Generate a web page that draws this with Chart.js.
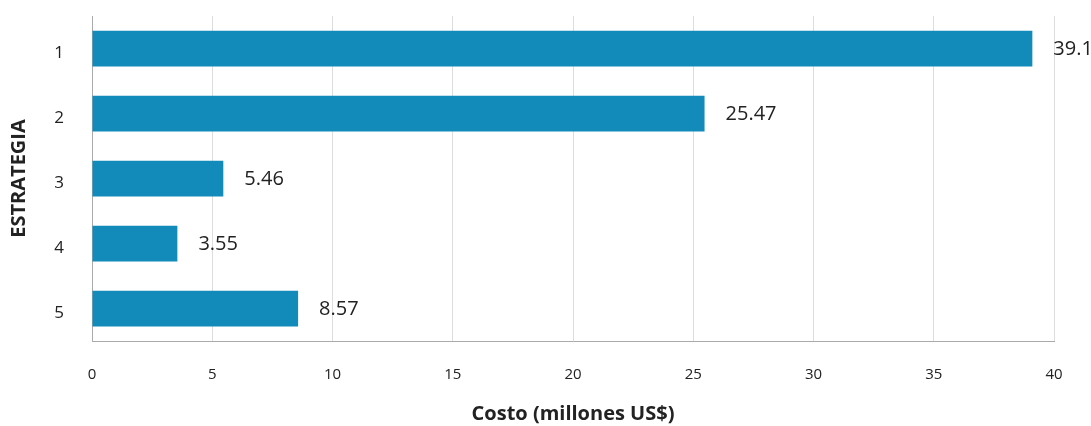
<!DOCTYPE html>
<html>
<head>
<meta charset="utf-8">
<script src="https://cdn.jsdelivr.net/npm/chart.js@4"></script>
<style>
  html, body { margin: 0; padding: 0; background: #ffffff; }
  #wrap { width: 1091px; height: 426px; }
</style>
</head>
<body>
<div id="wrap"><canvas id="c" width="1091" height="426"></canvas></div>
<script>
// Costo por estrategia (millones US$)
const estrategias = ['1', '2', '3', '4', '5'];
const costos = [39.1, 25.47, 5.46, 3.55, 8.57];
const ticksX = [0, 5, 10, 15, 20, 25, 30, 35, 40];

const FONT = '"Open Sans", "Noto Sans", sans-serif';
const TXT = '#222222';

// Value labels written just past the end of each bar
const valueLabels = {
  id: 'valueLabels',
  afterDatasetsDraw(chart) {
    const ctx = chart.ctx;
    const meta = chart.getDatasetMeta(0);
    ctx.save();
    ctx.font = '20px ' + FONT;
    ctx.fillStyle = TXT;
    ctx.textAlign = 'left';
    ctx.textBaseline = 'middle';
    meta.data.forEach((bar, i) => {
      ctx.fillText(String(costos[i]), bar.x + 21, bar.y + 1);
    });
    ctx.restore();
  }
};

new Chart(document.getElementById('c'), {
  type: 'bar',
  data: {
    labels: estrategias,
    datasets: [{
      data: costos,
      backgroundColor: '#138bba',
      borderWidth: 0,
      barPercentage: 0.55,
      categoryPercentage: 1.0
    }]
  },
  plugins: [valueLabels],
  options: {
    indexAxis: 'y',
    responsive: false,
    animation: false,
    layout: { padding: { top: 16, right: 37, left: 0, bottom: 0 } },
    plugins: { legend: { display: false }, tooltip: { enabled: false } },
    scales: {
      x: {
        min: 0, max: 40,
        afterBuildTicks(scale) { scale.ticks = ticksX.map(v => ({ value: v })); },
        afterFit(scale) {
          scale.height = 85;
          scale.paddingTop = 0; scale.paddingBottom = 0;
        },
        grid: { color: '#dddddd', lineWidth: 1, drawTicks: false },
        border: { color: '#aaaaaa', width: 1 },
        ticks: { color: TXT, font: { family: FONT, size: 15 }, padding: 25 },
        title: {
          display: true,
          text: 'Costo (millones US$)',
          color: TXT,
          font: { family: FONT, size: 20, weight: 'bold' },
          padding: { top: 9, bottom: 0 }
        }
      },
      y: {
        afterFit(scale) {
          scale.width = 92;
          scale.paddingTop = 0; scale.paddingBottom = 0;
        },
        grid: { display: false, drawTicks: false },
        border: { color: '#aaaaaa', width: 1 },
        ticks: { color: TXT, font: { family: FONT, size: 17 }, padding: 28, labelOffset: 5 },
        title: {
          display: true,
          text: 'ESTRATEGIA',
          color: TXT,
          font: { family: FONT, size: 20, weight: 'bold' },
          padding: { top: 7, bottom: 0 }
        }
      }
    }
  }
});
</script>
</body>
</html>
